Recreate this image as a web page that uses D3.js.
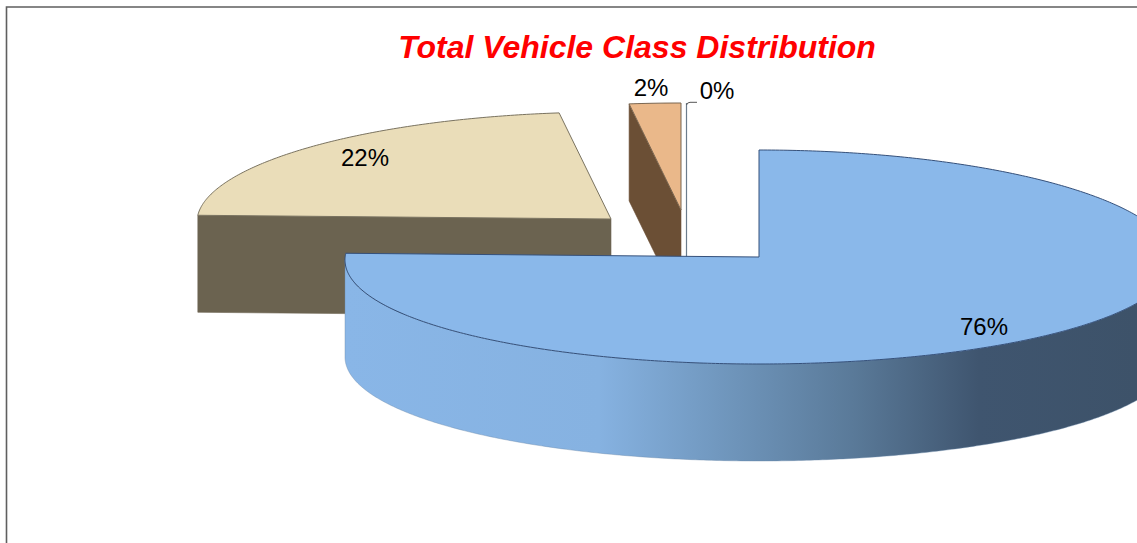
<!DOCTYPE html>
<html><head><meta charset="utf-8">
<script src="https://cdn.jsdelivr.net/npm/d3@7"></script>
<style>html,body{margin:0;padding:0;background:#fff;overflow:hidden}svg{display:block}text{font-family:"Liberation Sans",Arial,sans-serif}</style>
</head><body><svg id="c" width="1137" height="543"></svg>
<script>
const categories = ["Class A", "Class B", "Class C", "Class D"];
const shares = [76, 22, 2, 0];
const percentLabels = ["76%", "22%", "2%", "0%"];
const titleText = "Total Vehicle Class Distribution";

const W = 1137, H = 543, RX = 414, RY = 107, DEPTH = 97, SAG = 3;
const layout = [
  {cx:759, cy:257, top:"#8ab8ea", stroke:"#35507a", lx:984, ly:335},
  {cx:611, cy:219, top:"#eaddb9", stroke:"#7a7360", side:"#6b6350", lx:365, ly:166},
  {cx:681, cy:210, top:"#eab88a", stroke:"#7a6650", side:"#6b4f35", lx:651, ly:96},
  {cx:686.5, cy:210, top:"#ffffff", stroke:"#6b7c8c", lx:717, ly:99}
];

const svg = d3.select("#c");
const defs = svg.append("defs");
const grad = defs.append("linearGradient").attr("id","wall").attr("gradientUnits","userSpaceOnUse")
  .attr("x1",345).attr("x2",1137).attr("y1",0).attr("y2",0);
[[0,"#89b6e7"],[0.32,"#86b2e1"],[0.47,"#7198bf"],[0.64,"#5a7a99"],[0.8,"#3f556f"],[1,"#3d5269"]]
  .forEach(([o,c])=>grad.append("stop").attr("offset",o).attr("stop-color",c));

svg.append("rect").attr("width",W).attr("height",H).attr("fill","#fff");
svg.append("path").attr("d",`M6.5,${H+2}V7H${W+2}`).attr("fill","none").attr("stroke","#5f5f5f").attr("stroke-width",1.6);

const arcs = d3.pie().sort(null).value(d=>d)(shares);

function ellipse(l, dy=0){
  const x = d3.scaleLinear().domain([-1,1]).range([l.cx-RX,l.cx+RX]);
  const y = d3.scaleLinear().domain([-1,1]).range([l.cy+dy+RY,l.cy+dy-RY]);
  return a=>[x(Math.sin(a)),y(Math.cos(a))+SAG*Math.sin(a)*Math.sin(a)];
}
function sample(a0,a1){
  const n = Math.max(1,Math.ceil(Math.abs(a1-a0)/0.01));
  return d3.range(n+1).map(i=>a0+(a1-a0)*i/n);
}
const line = d3.line();

function drawTop(i){
  const l=layout[i], a=arcs[i], p=ellipse(l);
  svg.append("path").attr("d",line([[l.cx,l.cy],...sample(a.startAngle,a.endAngle).map(p)])+"Z")
    .attr("fill",l.top).attr("stroke",l.stroke).attr("stroke-width",1);
}
function drawCut(i,angle){
  const l=layout[i], p=ellipse(l);
  const [ox,oy]=p(angle);
  svg.append("path").attr("d",line([[ox,oy],[l.cx,l.cy],[l.cx,l.cy+DEPTH],[ox,oy+DEPTH]])+"Z")
    .attr("fill",l.side).attr("stroke",l.side).attr("stroke-width",0.6);
}
drawCut(1,arcs[1].startAngle);
drawTop(1);
drawCut(2,arcs[2].startAngle);
drawTop(2);

{
  const l=layout[3];
  svg.append("path").attr("d",line([[l.cx,103],[l.cx,258]])).attr("stroke",l.stroke).attr("stroke-width",1.2).attr("fill","none");
  svg.append("path").attr("d","M686.5,105Q687,102.5 690,102.3H697").attr("stroke","#555").attr("stroke-width",1).attr("fill","none");
}

{
  const l=layout[0], a=arcs[0], up=ellipse(l), dn=ellipse(l,DEPTH);
  const wa = sample(Math.PI/2, 1.5*Math.PI);
  svg.append("path").attr("d",line([...wa.map(up),...wa.slice().reverse().map(dn)])+"Z")
    .attr("fill","url(#wall)").attr("stroke","#6a89a8").attr("stroke-width",0.4);
  drawTop(0);
}

svg.append("text").attr("x",637).attr("y",58).attr("text-anchor","middle")
  .attr("font-size",32).attr("font-weight","bold").attr("font-style","italic").attr("fill","#ff0000").text(titleText);
svg.selectAll("text.pct").data(percentLabels).join("text").attr("class","pct")
  .attr("x",(d,i)=>layout[i].lx).attr("y",(d,i)=>layout[i].ly).attr("text-anchor","middle")
  .attr("font-size",24).attr("fill","#000").text(d=>d);
</script></body></html>
